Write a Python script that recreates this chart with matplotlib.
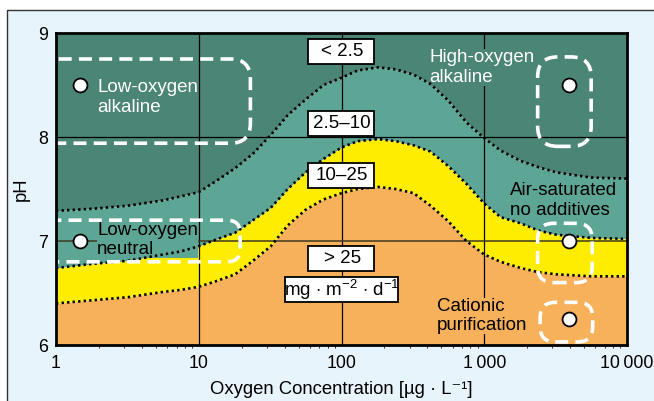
import numpy as np
import matplotlib
matplotlib.use('Agg')
import matplotlib.pyplot as plt
from matplotlib.patches import Rectangle, FancyBboxPatch
from matplotlib.transforms import IdentityTransform

plt.rcParams['font.family'] = ['Liberation Sans', 'DejaVu Sans']
plt.rcParams['mathtext.fontset'] = 'custom'
plt.rcParams['mathtext.rm'] = 'Liberation Sans'

# oxygen concentration (ug/L) and pH of the three boundary curves
oxygen = [1, 1.8, 3.2, 5.6, 7.5, 10, 13, 18, 24, 32, 42, 56, 75, 100, 130, 180,
          240, 320, 420, 560, 750, 1000, 1300, 1800, 2400, 3200, 5600, 10000]
ph_upper = [7.29, 7.31, 7.34, 7.39, 7.43, 7.47, 7.57, 7.70, 7.84, 8.02, 8.21, 8.36, 8.50, 8.57,
            8.64, 8.67, 8.65, 8.60, 8.51, 8.35, 8.14, 7.99, 7.87, 7.77, 7.71, 7.66, 7.61, 7.60]
ph_middle = [6.74, 6.78, 6.81, 6.87, 6.90, 6.95, 7.01, 7.08, 7.20, 7.32, 7.50, 7.66, 7.79, 7.90,
             7.96, 7.98, 7.96, 7.92, 7.86, 7.72, 7.55, 7.36, 7.23, 7.17, 7.10, 7.06, 7.03, 7.02]
ph_lower = [6.40, 6.43, 6.46, 6.51, 6.53, 6.56, 6.61, 6.68, 6.81, 6.95, 7.15, 7.30, 7.40, 7.46,
            7.50, 7.52, 7.50, 7.46, 7.34, 7.19, 7.00, 6.87, 6.80, 6.74, 6.70, 6.68, 6.66, 6.66]

# rate labels (mg m-2 d-1) and their pH positions
rate_labels = ['< 2.5', '2.5\u201310', '10\u201325', '> 25']
rate_ph = [8.82, 8.13, 7.63, 6.83]

# operating points
points_x = [1.47, 1.47, 3900, 3900, 3900]
points_ph = [8.5, 7.0, 8.5, 7.0, 6.25]

# dashed regions: x0, x1, ph0, ph1, corner radius (px)
regions = [
    (0.5, 23, 7.94, 8.75, 20),
    (0.5, 19.5, 6.8, 7.2, 13),
    (2366, 5610, 7.91, 8.77, 20),
    (2366, 5705, 6.60, 7.17, 16),
    (2465, 5750, 6.03, 6.41, 15),
]

dark_teal = '#4b8575'
mid_teal = '#5da695'
yellow = '#ffed00'
orange = '#f7b15b'
fs = 13.5

fig = plt.figure(figsize=(6.54, 4.01), dpi=100)
fig.patches.append(Rectangle((7 / 654, 0), 1, (401 - 10) / 401, transform=fig.transFigure,
                             facecolor='#e8f4fc', edgecolor='none', zorder=-2))
fig.lines.append(plt.Line2D([7 / 654, 7 / 654, 1], [0, 1 - 10 / 401, 1 - 10 / 401],
                            transform=fig.transFigure, color='#333333', lw=1, zorder=-1))

ax = fig.add_axes([56 / 654, 1 - 345 / 401, 571 / 654, 312 / 401])
ax.set_zorder(1)
ax.set_xscale('log')
ax.set_xlim(1, 10000)
ax.set_ylim(6, 9)

ax.fill_between(oxygen, ph_upper, 9, color=dark_teal, lw=0, zorder=1)
ax.fill_between(oxygen, ph_middle, ph_upper, color=mid_teal, lw=0, zorder=1)
ax.fill_between(oxygen, ph_lower, ph_middle, color=yellow, lw=0, zorder=1)
ax.fill_between(oxygen, 6, ph_lower, color=orange, lw=0, zorder=1)

for vals in (ph_upper, ph_middle, ph_lower):
    ax.plot(oxygen, vals, color='black', lw=1.9, linestyle=(0, (0.9, 1.2)), zorder=3)

for gx in (10, 100, 1000):
    ax.axvline(gx, color='black', lw=0.9, zorder=2)
ax.axhline(8, color='black', lw=0.9, zorder=2)
ax.axhline(7, color='#3d3a22', lw=1.1, zorder=2)

ax.set_xticks([1, 10, 100, 1000, 10000])
ax.set_xticklabels(['1', '10', '100', '1\u2009000', '10\u2009000'])
ax.set_yticks([6, 7, 8, 9])
ax.tick_params(length=0, labelsize=12.8, pad=7)
ax.tick_params(axis='y', pad=6)
ax.set_xlabel('Oxygen Concentration [\u00b5g \u00b7 L\u207b\u00b9]', fontsize=13.3, labelpad=7)
ax.set_ylabel('pH', fontsize=13.3, labelpad=6)
for s in ax.spines.values():
    s.set_linewidth(2)
    s.set_zorder(10)

# rate boxes
for lab, ph in zip(rate_labels, rate_ph):
    ax.add_patch(Rectangle((58.3, ph - 0.12), 169 - 58.3, 0.24, facecolor='white',
                           edgecolor='black', lw=1.3, zorder=6))
    ax.text(101, ph, lab, ha='center', va='center', fontsize=fs, zorder=7)
ax.add_patch(Rectangle((40.3, 6.53 - 0.12), 249 - 40.3, 0.24, facecolor='white',
                       edgecolor='black', lw=1.3, zorder=6))
ax.text(101, 6.53, r'mg $\cdot$ m$^{\mathregular{-2}}$ $\cdot$ d$^{\mathregular{-1}}$',
        ha='center', va='center', fontsize=fs, zorder=7)

# region texts (boxes hide the grid lines behind them, as in the original)
ax.text(1.94, 8.38, 'Low-oxygen\nalkaline', color='white', fontsize=fs, va='center', zorder=2.5)
ax.text(411, 8.67, 'High-oxygen\nalkaline', color='white', fontsize=fs, va='center', zorder=2.5,
        bbox=dict(facecolor=dark_teal, edgecolor='none', pad=0))
ax.text(1514, 7.39, 'Air-saturated\nno additives', color='black', fontsize=fs, va='center',
        zorder=2.5)
ax.text(1.94, 7.01, 'Low-oxygen\nneutral', color='black', fontsize=fs, va='center', zorder=2.5,
        bbox=dict(facecolor=mid_teal, edgecolor='none', pad=0))
ax.text(468, 6.28, 'Cationic\npurification', color='black', fontsize=fs, va='center', zorder=2.5,
        bbox=dict(facecolor=orange, edgecolor='none', pad=0))

# dashed rounded regions, built in pixel space so the corners stay round
for x0, x1, p0, p1, r in regions:
    (ax0, ay0), (ax1, ay1) = ax.transData.transform([(x0, p0), (x1, p1)])
    box = FancyBboxPatch((ax0, ay0), ax1 - ax0, ay1 - ay0,
                         boxstyle='round,pad=0,rounding_size=%d' % r,
                         transform=IdentityTransform(), facecolor='none', edgecolor='white',
                         lw=2.6, linestyle=(0, (3.6, 2.0)), zorder=4)
    ax.add_patch(box)
    box.set_clip_path(ax.patch)

ax.plot(points_x, points_ph, 'o', ms=10, mfc='white', mec='black', mew=1.3, zorder=8,
        clip_on=False)

fig.savefig('out.png', dpi=100)
